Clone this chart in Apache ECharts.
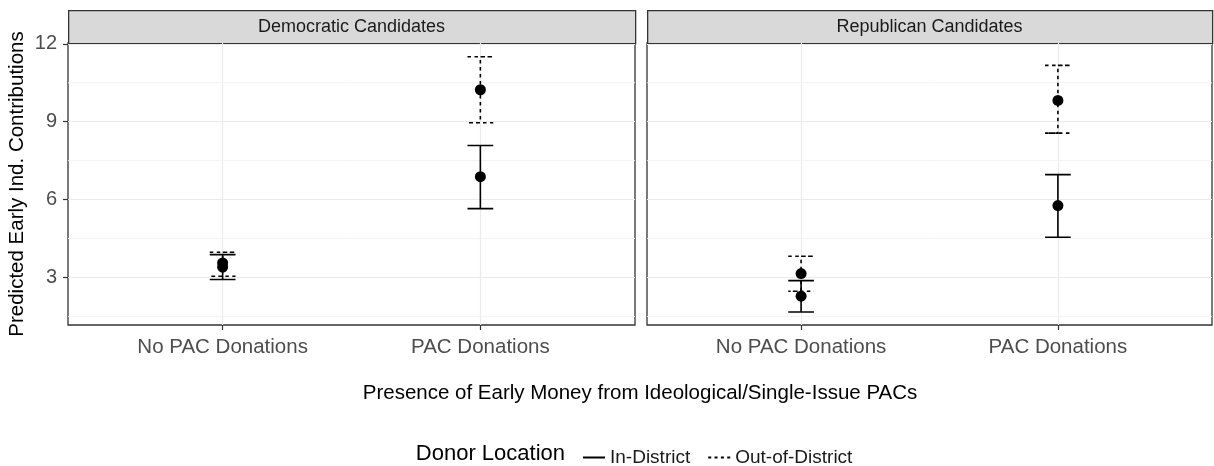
<!DOCTYPE html>
<html>
<head>
<meta charset="utf-8">
<script src="https://cdn.jsdelivr.net/npm/echarts@6/dist/echarts.min.js"></script>
<style>
html,body{margin:0;padding:0;background:#fff;}
#chart{width:1214px;height:466px;}
</style>
</head>
<body>
<div id="chart"></div>
<script>
// ---- data ----
const categories = ['No PAC Donations', 'PAC Donations'];
const panels = ['Democratic Candidates', 'Republican Candidates'];
const locations = ['In-District', 'Out-of-District'];
const yTicks = [3, 6, 9, 12];
const yMinor = [1.5, 4.5, 7.5, 10.5];

const demInEst  = [3.40, 6.88];
const demInLow  = [2.92, 5.65];
const demInHigh = [3.88, 8.08];
const demOutEst  = [3.56, 10.23];
const demOutLow  = [3.05, 8.96];
const demOutHigh = [3.97, 11.50];

const repInEst  = [2.28, 5.77];
const repInLow  = [1.67, 4.55];
const repInHigh = [2.88, 6.96];
const repOutEst  = [3.15, 9.82];
const repOutLow  = [2.47, 8.56];
const repOutHigh = [3.82, 11.17];

// ---- chart ----
const FONT = 'Liberation Sans, Arial, Helvetica, sans-serif';
const chart = echarts.init(document.getElementById('chart'), null, {renderer: 'canvas'});

const panelData = [
  {inEst: demInEst, inLow: demInLow, inHigh: demInHigh, outEst: demOutEst, outLow: demOutLow, outHigh: demOutHigh},
  {inEst: repInEst, inLow: repInLow, inHigh: repInHigh, outEst: repOutEst, outLow: repOutLow, outHigh: repOutHigh}
];

const X_MIN = -0.6, X_MAX = 1.6, Y_MIN = 1.17, Y_MAX = 12.03;
const CAP = 0.1;

function errorBarRender(dashed) {
  return function (params, api) {
    const x = api.value(0), lo = api.value(1), hi = api.value(2);
    const half = api.size([CAP, 0])[0] / 2;
    const pHi = api.coord([x, hi]);
    const pLo = api.coord([x, lo]);
    return {
      type: 'polyline',
      shape: {points: [
        [pHi[0] - half, pHi[1]], [pHi[0] + half, pHi[1]], [pHi[0], pHi[1]],
        [pLo[0], pLo[1]], [pLo[0] - half, pLo[1]], [pLo[0] + half, pLo[1]]
      ]},
      style: {stroke: '#000', lineWidth: 1.6, fill: null, lineDash: dashed ? [3.5, 3.5] : null}
    };
  };
}

function minorRender(params, api) {
  const v = api.value(0);
  const a = api.coord([X_MIN, v]);
  const b = api.coord([X_MAX, v]);
  return {type: 'line', shape: {x1: a[0], y1: a[1], x2: b[0], y2: b[1]},
          style: {stroke: '#f2f2f2', lineWidth: 0.9}};
}

const series = [];
panelData.forEach((p, gi) => {
  series.push({
    type: 'custom', name: 'minor' + gi, xAxisIndex: gi, yAxisIndex: gi, silent: true, z: 1,
    renderItem: minorRender, data: yMinor.map(v => [v]), encode: {x: -1, y: 0}
  });
  [['in', false, locations[0]], ['out', true, locations[1]]].forEach(([k, dashed, name]) => {
    const est = p[k + 'Est'], low = p[k + 'Low'], high = p[k + 'High'];
    series.push({
      type: 'custom', name: name, xAxisIndex: gi, yAxisIndex: gi, z: 3,
      itemStyle: {color: '#000'},
      renderItem: errorBarRender(dashed),
      encode: {x: 0, y: [1, 2]},
      data: categories.map((c, i) => [i, low[i], high[i]])
    });
    series.push({
      type: 'scatter', name: name, xAxisIndex: gi, yAxisIndex: gi, z: 4,
      symbol: 'circle', symbolSize: 11, itemStyle: {color: '#000', opacity: 1},
      data: categories.map((c, i) => [i, est[i]])
    });
  });
});

const grids = [
  {left: 68, top: 43, width: 567, height: 282},
  {left: 647, top: 43, width: 565, height: 282}
];

const option = {
  backgroundColor: '#fff',
  animation: false,
  textStyle: {fontFamily: FONT},
  grid: grids.map(g => Object.assign({show: true, borderColor: '#333', borderWidth: 1.3, backgroundColor: 'transparent'}, g)),
  xAxis: [0, 1].map(gi => ({
    type: 'value', gridIndex: gi, min: X_MIN, max: X_MAX,
    axisLine: {show: false, onZero: false},
    axisTick: {show: true, customValues: [0, 1], length: 5, lineStyle: {color: '#333', width: 1.2}},
    axisLabel: {customValues: [0, 1], formatter: v => categories[Math.round(v)], fontSize: 20.5, color: '#4d4d4d', margin: 12, fontFamily: FONT},
    splitLine: {show: true, lineStyle: {color: '#ebebeb', width: 1.2}}
  })),
  yAxis: [0, 1].map(gi => ({
    type: 'value', gridIndex: gi, min: Y_MIN, max: Y_MAX,
    name: gi === 0 ? 'Predicted Early Ind. Contributions' : '',
    nameLocation: 'middle', nameGap: 40, nameRotate: 90,
    nameTextStyle: {fontSize: 20.5, color: '#000', fontFamily: FONT},
    axisLine: {show: false, onZero: false},
    axisTick: {show: gi === 0, customValues: yTicks, length: 5, lineStyle: {color: '#333', width: 1.2}},
    axisLabel: {show: gi === 0, customValues: yTicks, fontSize: 20, color: '#4d4d4d', margin: 11, fontFamily: FONT},
    splitLine: {show: true, lineStyle: {color: '#ebebeb', width: 1.2}}
  })),
  legend: {
    left: 578, top: 443, itemGap: 18, itemWidth: 22, itemHeight: 2,
    textStyle: {fontSize: 19, color: '#1a1a1a', fontFamily: FONT},
    data: [
      {name: locations[0], icon: 'path://M0 0H22V2H0Z', itemStyle: {color: '#000'}},
      {name: locations[1], icon: 'path://M0 0H3V2H0Z M6.33 0H9.33V2H6.33Z M12.67 0H15.67V2H12.67Z M19 0H22V2H19Z', itemStyle: {color: '#000'}}
    ],
    selectedMode: false
  },
  graphic: [
    {type: 'rect', left: 68, top: 10, shape: {width: 567, height: 33}, style: {fill: '#d9d9d9', stroke: '#333', lineWidth: 1.3}},
    {type: 'rect', left: 647, top: 10, shape: {width: 565, height: 33}, style: {fill: '#d9d9d9', stroke: '#333', lineWidth: 1.3}},
    {type: 'text', x: 68 + 567 / 2, y: 27, style: {text: panels[0], fontSize: 18, fill: '#1a1a1a', align: 'center', verticalAlign: 'middle', fontFamily: FONT}},
    {type: 'text', x: 647 + 565 / 2, y: 27, style: {text: panels[1], fontSize: 18, fill: '#1a1a1a', align: 'center', verticalAlign: 'middle', fontFamily: FONT}},
    {type: 'text', x: 640, y: 393, style: {text: 'Presence of Early Money from Ideological/Single-Issue PACs', fontSize: 20.5, fill: '#000', align: 'center', verticalAlign: 'middle', fontFamily: FONT}},
    {type: 'text', x: 565, y: 454, style: {text: 'Donor Location', fontSize: 22, fill: '#000', align: 'right', verticalAlign: 'middle', fontFamily: FONT}}
  ],
  series: series
};
chart.setOption(option);
</script>
</body>
</html>
